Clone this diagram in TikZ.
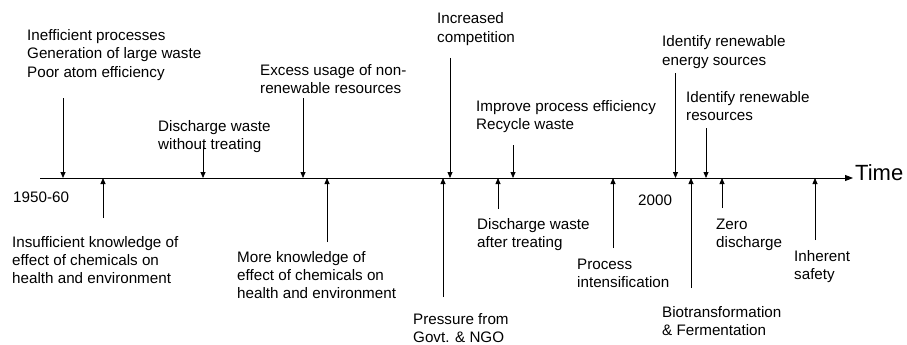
\documentclass[tikz,border=0pt]{standalone}
\usepackage{fontspec}
\setmainfont{Liberation Sans}
\usetikzlibrary{arrows.meta}
\newcommand{\lbl}[1]{\begin{tabular}[t]{@{}l@{}}#1\end{tabular}}
\begin{document}
\begin{tikzpicture}[x=1pt,y=-1pt,
  txt/.style={anchor=base west, inner sep=0pt, font=\fontsize{15.2}{18.4}\selectfont},
  evt/.style={-{Triangle[length=6pt,width=5pt]}, line width=0.8pt},
  axisline/.style={-{Triangle[length=8pt,width=6pt]}, line width=0.9pt}]
\useasboundingbox (0,0) rectangle (907,345);
% timeline
\coordinate (L0) at (40,178);
\coordinate (L1) at (853,178);
\draw[axisline] (L0) -- (L1);
\node[txt, font=\fontsize{22}{26}\selectfont] (time) at (855,180) {Time};
\node[txt] (d1950) at (13,202) {1950-60};
\node[txt] (d2000) at (638,205.5) {2000};
% top events
\node[txt] (t1) at (27,40.5) {\lbl{Inefficient processes\\Generation of large waste\\Poor atom efficiency}};
\coordinate (t1s) at (63,98); \coordinate (t1e) at (63,178);
\draw[evt] (t1s) -- (t1e);
\node[txt] (t2) at (158,131) {\lbl{Discharge waste\\without treating}};
\coordinate (t2s) at (203,145); \coordinate (t2e) at (203,178);
\draw[evt] (t2s) -- (t2e);
\node[txt] (t3) at (260,75.5) {\lbl{Excess usage of non-\\renewable resources}};
\coordinate (t3s) at (303,98); \coordinate (t3e) at (303,178);
\draw[evt] (t3s) -- (t3e);
\node[txt] (t4) at (437,24) {\lbl{Increased\\competition}};
\coordinate (t4s) at (450,58); \coordinate (t4e) at (450,178);
\draw[evt] (t4s) -- (t4e);
\node[txt] (t5) at (476,111.5) {\lbl{Improve process efficiency\\Recycle waste}};
\coordinate (t5s) at (513,145); \coordinate (t5e) at (513,178);
\draw[evt] (t5s) -- (t5e);
\node[txt] (t6) at (662,47) {\lbl{Identify renewable\\energy sources}};
\coordinate (t6s) at (675.5,73); \coordinate (t6e) at (675.5,178);
\draw[evt] (t6s) -- (t6e);
\node[txt] (t7) at (686,102) {\lbl{Identify renewable\\resources}};
\coordinate (t7s) at (706,128); \coordinate (t7e) at (706,178);
\draw[evt] (t7s) -- (t7e);
% bottom events
\node[txt] (b1) at (12,247) {\lbl{Insufficient knowledge of\\effect of chemicals on\\health and environment}};
\coordinate (b1s) at (103,218); \coordinate (b1e) at (103,178);
\draw[evt] (b1s) -- (b1e);
\node[txt] (b2) at (237,262) {\lbl{More knowledge of\\effect of chemicals on\\health and environment}};
\coordinate (b2s) at (327,242); \coordinate (b2e) at (327,178);
\draw[evt] (b2s) -- (b2e);
\node[txt, font=\fontsize{15.2}{17.6}\selectfont] (b3) at (413,324.5) {\lbl{Pressure from\\Govt. \& NGO}};
\coordinate (b3s) at (443,297); \coordinate (b3e) at (443,178);
\draw[evt] (b3s) -- (b3e);
\node[txt] (b4) at (477,229.5) {\lbl{Discharge waste\\after treating}};
\coordinate (b4s) at (498,209); \coordinate (b4e) at (498,178);
\draw[evt] (b4s) -- (b4e);
\node[txt] (b5) at (577,269.5) {\lbl{Process\\intensification}};
\coordinate (b5s) at (613,248); \coordinate (b5e) at (613,178);
\draw[evt] (b5s) -- (b5e);
\node[txt] (b6) at (662,317) {\lbl{Biotransformation\\\& Fermentation}};
\coordinate (b6s) at (691,288); \coordinate (b6e) at (691,178);
\draw[evt] (b6s) -- (b6e);
\node[txt] (b7) at (716,229) {\lbl{Zero\\discharge}};
\coordinate (b7s) at (722,208); \coordinate (b7e) at (722,178);
\draw[evt] (b7s) -- (b7e);
\node[txt] (b8) at (794,261.5) {\lbl{Inherent\\safety}};
\coordinate (b8s) at (815,240); \coordinate (b8e) at (815,178);
\draw[evt] (b8s) -- (b8e);
\end{tikzpicture}
\end{document}
